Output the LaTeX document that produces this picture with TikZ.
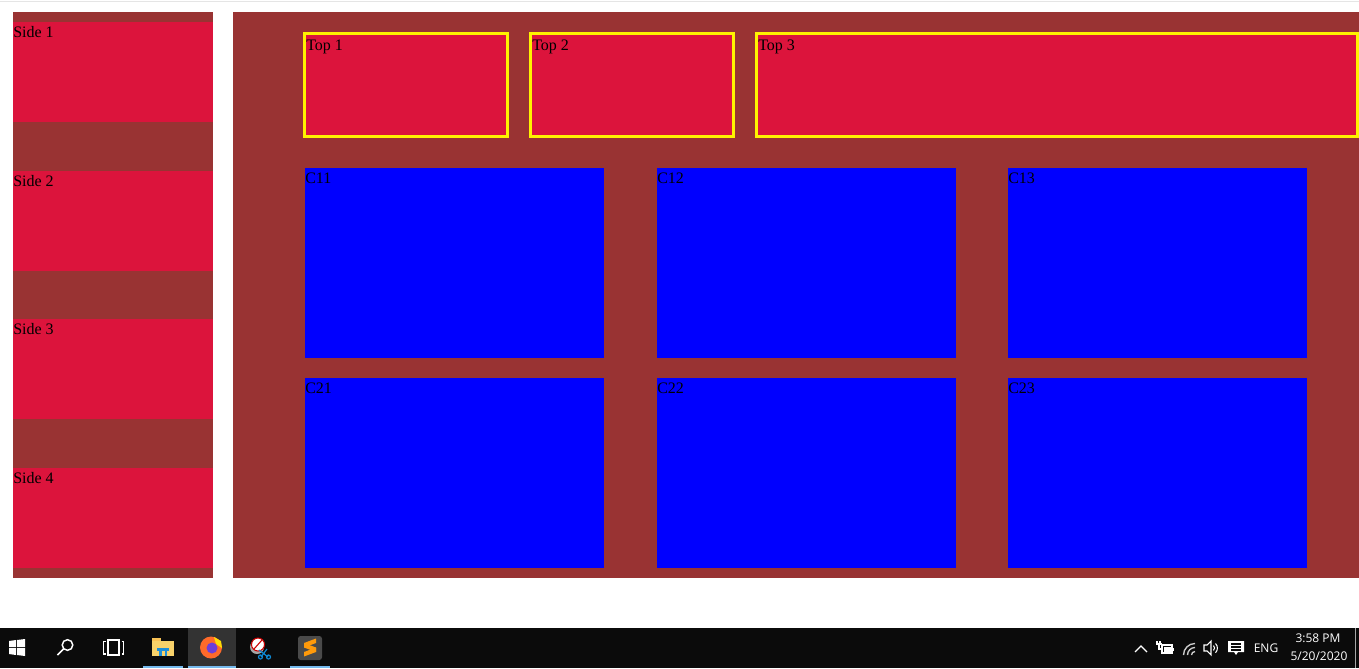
\documentclass[tikz,border=0pt]{standalone}
\usepackage{fontspec}
\setmainfont{Liberation Serif}
\newfontfamily\uifont{Open Sans}
\usepackage{xcolor}
\usetikzlibrary{positioning,calc}
\definecolor{panelbrown}{HTML}{993333}
\definecolor{boxcrimson}{HTML}{DC143C}
\definecolor{cellblue}{HTML}{0000FF}
\definecolor{barblack}{HTML}{0B0B0B}
\definecolor{barhover}{HTML}{333333}
\definecolor{runblue}{HTML}{76B9ED}
\definecolor{foldery}{HTML}{F8D26A}
\definecolor{folderb}{HTML}{1E8FD8}
\definecolor{foxorange}{HTML}{FF6A2A}
\definecolor{foxpurple}{HTML}{6E3FD8}
\definecolor{subgray}{HTML}{4A4A4A}
\definecolor{suborange}{HTML}{FF9A0A}

\begin{document}
\begin{tikzpicture}[x=0.75pt,y=-0.75pt,
	lbl/.style={anchor=base west, inner sep=0pt, font=\fontsize{12}{14}\selectfont},
	tray/.style={text=white, inner sep=0pt, font=\uifont\fontsize{9}{11}\selectfont}]
	\useasboundingbox (0,0) rectangle (1359,668);
	\fill[white] (0,0) rectangle (1359,668);
	\fill[gray!20] (0,1) rectangle (1359,2);
	% side column
	\fill[panelbrown] (13,12) rectangle (213,578);
	\foreach \i/\y in {1/22, 2/171, 3/319, 4/468}
		{\fill[boxcrimson] (13,\y) rectangle (213,\y+100);
			\node[lbl] (side\i) at (13,\y+15.3) {Side \i};}
	% main panel
	\fill[panelbrown] (233,12) rectangle (1359,578);
	% top row: yellow framed boxes
	\foreach \i/\a/\b in {1/303/509, 2/529/735, 3/755/1359}
		{\filldraw[fill=boxcrimson, draw=yellow, line width=2.25pt]
			(\a+1.5,33.5) rectangle (\b-1.5,136.5);
			\node[lbl] (top\i) at (\a+3,50.7) {Top \i};}
	% content cells
	\foreach \r/\y in {1/168, 2/378}
		{\foreach \c/\x in {1/305, 2/657, 3/1008}
			{\fill[cellblue] (\x,\y) rectangle (\x+299,\y+190);
				\node[lbl] (c\r\c) at (\x,\y+15.3) {C\r\c};}}
	% taskbar
	\fill[barblack] (0,628) rectangle (1359,668);
	\fill[barhover] (188,628) rectangle (236,668);
	\foreach \a/\b in {143/183, 188/236, 290/330}
		\fill[runblue] (\a,666) rectangle (\b,668);
	% start, search, task view
	\fill[white] (9,641) -- (16,640) -- (16,647) -- (9,647) -- cycle;
	\fill[white] (17,640) -- (25,639) -- (25,647) -- (17,647) -- cycle;
	\fill[white] (9,648) -- (16,648) -- (16,655) -- (9,654) -- cycle;
	\fill[white] (17,648) -- (25,648) -- (25,656) -- (17,655) -- cycle;
	\draw[white, line width=1.1pt] (67.5,645) circle[radius=5.3];
	\draw[white, line width=1.1pt] (63.7,648.8) -- (57.5,655);
	\draw[white, line width=0.9pt] (105.5,641.5) -- (103.5,641.5) -- (103.5,654) -- (105.5,654);
	\draw[white, line width=0.9pt] (121.5,641.5) -- (123.5,641.5) -- (123.5,654) -- (121.5,654);
	\draw[white, line width=0.9pt] (108,640) rectangle (119,655);
	% file explorer
	\fill[foldery!80!orange] (152,638) rectangle (161,642);
	\fill[foldery] (152,641) rectangle (174,656);
	\fill[folderb] (157,648) rectangle (169,651);
	\fill[folderb] (159,651) rectangle (161.5,656);
	\fill[folderb] (164.5,651) rectangle (167,656);
	% firefox
	\fill[foxorange] (211,647.5) circle[radius=11];
	\fill[yellow!80!orange] (214,637) -- (221,641) -- (222,648) -- (216,644) -- cycle;
	\fill[foxpurple] (212,648) circle[radius=5.5];
	% snipping tool
	\fill[gray!70] (257,647) circle[radius=7];
	\filldraw[fill=white, draw=red!80!black, line width=0.8pt] (258,644.5) circle[radius=6.5];
	\draw[red!80!black, line width=0.8pt] (254,649) -- (262,640);
	\draw[cyan!70!blue, line width=0.9pt] (259,650) -- (268,657) (267,649) -- (261,657);
	\draw[cyan!70!blue, line width=0.9pt] (260.5,657) circle[radius=2] (268.5,657) circle[radius=2];
	% sublime text
	\fill[subgray, rounded corners=2pt] (298,636) rectangle (322,660);
	\fill[suborange] (304,643) -- (316,638.5) -- (316,643) -- (304,647.5) -- cycle;
	\fill[suborange] (304,643) -- (316,647.5) -- (316,652) -- (304,647.5) -- cycle;
	\fill[suborange] (304,652) -- (316,647.5) -- (316,652) -- (304,656.5) -- cycle;
	% tray icons
	\draw[white, line width=0.9pt] (1135,652) -- (1141,646) -- (1147,652);
	\draw[white, line width=0.9pt] (1162,645) rectangle (1172,653);
	\fill[white] (1163.5,646.5) rectangle (1170.5,651.5);
	\fill[white] (1172,647.5) rectangle (1173.5,650.5);
	\draw[white, line width=0.8pt] (1156,644) -- (1162,644) (1159,644) -- (1159,649) -- (1162,649);
	\draw[white, line width=0.8pt] (1157,641) -- (1157,644) (1160,641) -- (1160,644);
	\foreach \r in {3.5, 7.5, 11.5}
		\draw[white!80!black, line width=1pt] (1195-\r,655) arc[start angle=180, end angle=270, radius=\r];
	\draw[white, line width=0.8pt] (1204,645) -- (1207,645) -- (1211,641) -- (1211,655) -- (1207,651) -- (1204,651) -- cycle;
	\draw[white, line width=0.8pt] (1213.5,645.5) arc[start angle=-45, end angle=45, radius=3.5];
	\draw[white, line width=0.8pt] (1215.5,643.5) arc[start angle=-45, end angle=45, radius=6.5];
	\fill[white] (1228,641) rectangle (1244,652) (1234,652) -- (1236,655) -- (1238,652) -- cycle;
	\foreach \y in {644, 647, 650}
		\draw[barblack, line width=0.8pt] (1231,\y) -- (1241,\y);
	\node[tray] (lang) at (1266,648) {ENG};
	\node[tray] (clock) at (1318,638.5) {3:58 PM};
	\node[tray] (date) at (1319,656.5) {5/20/2020};
	\draw[gray!70] (1355.5,628) -- (1355.5,668);
\end{tikzpicture}
\end{document}
